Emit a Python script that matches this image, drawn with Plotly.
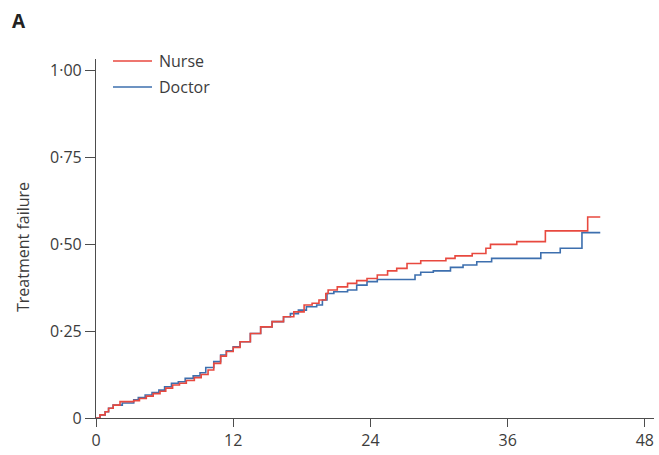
import plotly.graph_objects as go

# Kaplan-Meier style cumulative treatment failure (months)
nurse_t = [0, 0.35, 0.8, 1.1, 1.5, 2.1, 3.3, 3.8, 4.4, 5.0, 5.6, 6.1, 6.7, 7.3, 7.9,
           8.6, 9.2, 9.8, 10.3, 10.9, 11.4, 12.0, 12.6, 13.5, 14.4, 15.4, 16.4, 17.3,
           18.2, 18.9, 19.5, 20.1, 20.3, 21.1, 22.0, 22.8, 23.7, 24.6, 25.5, 26.3,
           27.2, 28.4, 30.6, 31.4, 32.9, 34.1, 34.5, 36.8, 39.3, 43.0, 44.1]
nurse_v = [0, 0.009, 0.018, 0.028, 0.037, 0.047, 0.050, 0.056, 0.063, 0.070, 0.077,
           0.086, 0.095, 0.100, 0.108, 0.116, 0.125, 0.138, 0.157, 0.178, 0.191, 0.203,
           0.219, 0.243, 0.262, 0.277, 0.291, 0.305, 0.325, 0.330, 0.339, 0.358, 0.368,
           0.377, 0.387, 0.395, 0.401, 0.411, 0.423, 0.430, 0.444, 0.452, 0.459, 0.466,
           0.473, 0.488, 0.499, 0.507, 0.538, 0.578, 0.578]

doctor_t = [0, 0.35, 0.8, 1.1, 1.5, 2.3, 3.3, 3.7, 4.3, 4.9, 5.5, 6.0, 6.6, 7.2, 7.8,
            8.5, 9.1, 9.6, 10.3, 10.9, 11.4, 12.0, 12.6, 13.5, 14.4, 15.4, 16.4, 17.0,
            17.7, 18.4, 19.3, 19.8, 20.2, 20.8, 22.0, 22.8, 23.7, 24.6, 27.9, 28.4,
            29.5, 31.0, 32.1, 33.3, 34.6, 38.9, 40.6, 42.5, 44.1]
doctor_v = [0, 0.009, 0.018, 0.028, 0.037, 0.043, 0.052, 0.059, 0.066, 0.073, 0.080,
            0.090, 0.100, 0.104, 0.114, 0.121, 0.130, 0.145, 0.162, 0.181, 0.193, 0.205,
            0.219, 0.243, 0.262, 0.277, 0.291, 0.300, 0.310, 0.320, 0.325, 0.339, 0.358,
            0.363, 0.368, 0.382, 0.392, 0.398, 0.411, 0.419, 0.423, 0.433, 0.440, 0.449,
            0.459, 0.475, 0.488, 0.533, 0.533]

x_ticks = [0, 12, 24, 36, 48]
x_labels = ["0", "12", "24", "36", "48"]
y_ticks = [0, 0.25, 0.5, 0.75, 1.0]
y_labels = ["0", "0·25", "0·50", "0·75", "1·00"]

series_names = ["Nurse", "Doctor"]
series_colors = ["#e8493f", "#3d6fae"]

FONT = "Open Sans"
AXIS_COLOR = "#4d4d4d"
TEXT_COLOR = "#3c3c3c"

fig = go.Figure()
fig.add_trace(go.Scatter(x=doctor_t, y=doctor_v, mode="lines", name=series_names[1],
                         line=dict(color=series_colors[1], width=1.6, shape="hv"),
                         showlegend=False))
fig.add_trace(go.Scatter(x=nurse_t, y=nurse_v, mode="lines", name=series_names[0],
                         line=dict(color=series_colors[0], width=1.6, shape="hv"),
                         showlegend=False))

W, H = 659, 455
L, R, T, B = 96, 5, 59, 37

fig.update_layout(
    width=W, height=H,
    margin=dict(l=L, r=R, t=T, b=B, pad=0),
    paper_bgcolor="white", plot_bgcolor="white",
    font=dict(family=FONT, size=16, color=TEXT_COLOR),
    xaxis=dict(range=[0, 48.8], tickvals=x_ticks, ticktext=x_labels,
               showline=True, linecolor=AXIS_COLOR, linewidth=1.2,
               ticks="outside", ticklen=8, tickwidth=1.2, tickcolor=AXIS_COLOR,
               showgrid=False, zeroline=False, automargin=False,
               tickfont=dict(family=FONT, size=16, color=TEXT_COLOR)),
    yaxis=dict(range=[0, 1.032], tickvals=y_ticks, ticktext=y_labels,
               showline=True, linecolor=AXIS_COLOR, linewidth=1.2,
               ticks="outside", ticklen=10, tickwidth=1.2, tickcolor=AXIS_COLOR,
               showgrid=False, zeroline=False, automargin=False,
               tickfont=dict(family=FONT, size=16, color=TEXT_COLOR)),
)

def px_x(p):
    return (p - L) / (W - L - R)

def px_y(p):
    return 1 - (p - T) / (H - T - B)

# Axis title
fig.add_annotation(text="Treatment failure", textangle=-90, xref="paper", yref="paper",
                   x=px_x(23), y=px_y(247), xanchor="center", yanchor="middle",
                   showarrow=False,
                   font=dict(family=FONT, size=16, color=TEXT_COLOR))

# Panel label
fig.add_annotation(text="<b>A</b>", xref="paper", yref="paper",
                   x=px_x(10), y=px_y(21), xanchor="left", yanchor="middle",
                   showarrow=False,
                   font=dict(family=FONT, size=19, color="#222222"))

# Manual legend
legend_rows = [61, 87]
for name, color, yy in zip(series_names, series_colors, legend_rows):
    fig.add_shape(type="line", xref="paper", yref="paper",
                  x0=px_x(113), x1=px_x(152), y0=px_y(yy), y1=px_y(yy),
                  line=dict(color=color, width=1.6))
    fig.add_annotation(text=name, xref="paper", yref="paper",
                       x=px_x(157), y=px_y(yy), xanchor="left", yanchor="middle",
                       showarrow=False,
                       font=dict(family=FONT, size=16, color=TEXT_COLOR))

fig.write_html("out.html",
               config={"displayModeBar": False},
               post_script="document.body.style.margin='0';document.body.style.padding='0';")
